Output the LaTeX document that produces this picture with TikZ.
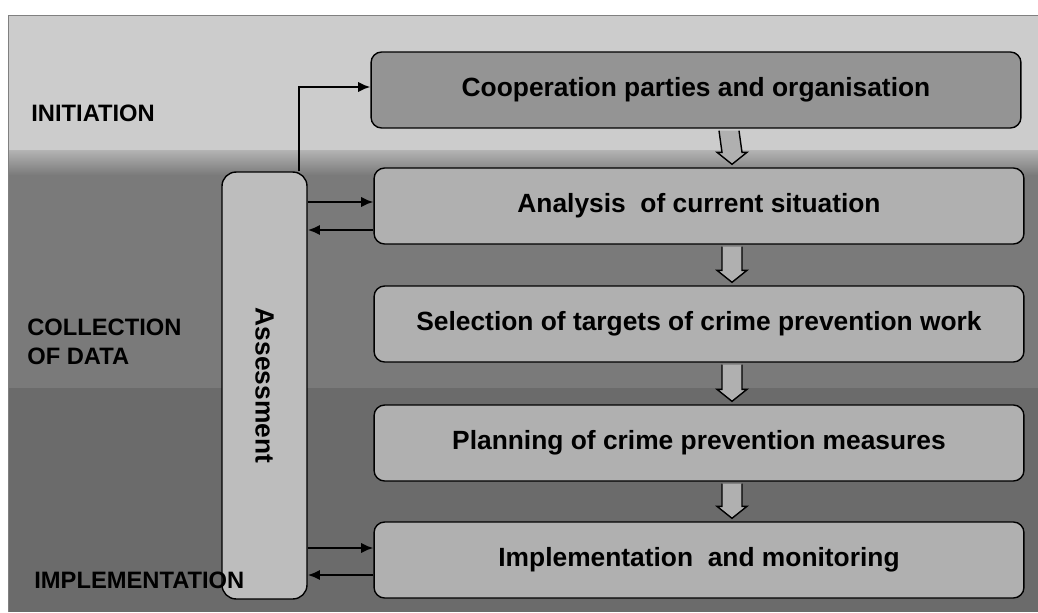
\documentclass[tikz,border=0pt]{standalone}
\usepackage{fontspec}
\setmainfont{Liberation Sans}
\usetikzlibrary{arrows.meta,calc,positioning}
\definecolor{bandtop}{gray}{0.80}
\definecolor{bandmid}{gray}{0.48}
\definecolor{bandlow}{gray}{0.42}
\definecolor{stepfill}{gray}{0.69}
\definecolor{coopfill}{gray}{0.58}
\definecolor{assessfill}{gray}{0.74}

\begin{document}
\begin{tikzpicture}[x=0.02cm,y=-0.02cm,
    phase/.style={font=\bfseries\fontsize{13.5}{16.4}\selectfont,align=left,anchor=west,inner sep=0pt},
    stepbox/.style={draw=black,thick,rounded corners=6pt,fill=stepfill,minimum width=13cm,minimum height=1.52cm,font=\bfseries\fontsize{15}{18}\selectfont},
    link/.style={line width=1.3pt,-{Latex[length=7pt,width=6pt]}},
    blockarrow/.style={draw=black,thick,fill=stepfill}]
        \useasboundingbox (0,0) rectangle (1038,612);
        % background bands
        \fill[bandtop] (8,15) rectangle (1038,150);
        \fill[bandmid] (8,150) rectangle (1038,388);
        \shade[top color=bandtop!70!bandmid,bottom color=bandmid] (8,150) rectangle (1038,175);
        \fill[bandlow] (8,388) rectangle (1038,612);
        \draw[gray,thin] (8,612) -- (8,15) -- (1038,15);
        % steps
        \node[stepbox,fill=coopfill] (coop) at (696,90) {Cooperation parties and organisation};
        \node[stepbox] (analysis) at (699,206) {Analysis~ of current situation};
        \node[stepbox] (select) at (699,324) {Selection of targets of crime prevention work};
        \node[stepbox] (plan) at (699,443) {Planning of crime prevention measures};
        \node[stepbox] (impl) at (699,560) {Implementation~ and monitoring};
        % assessment column
        \node[draw=black,thick,rounded corners=8pt,fill=assessfill,minimum width=1.7cm,minimum height=8.54cm] (assess) at (264.5,385.5) {};
        \node[rotate=-90,font=\bfseries\fontsize{15}{18}\selectfont] (assesstext) at (assess) {Assessment};
        % phases
        \node[phase] (initiation) at (31,113) {INITIATION};
        \node[phase] (collection) at (27,342) {COLLECTION\\OF DATA};
        \node[phase] (implementation) at (34,580) {IMPLEMENTATION};
        % block arrows
        \foreach \a/\b in {coop/analysis,analysis/select,select/plan,plan/impl}
          \draw[blockarrow] ($(\a.south)+(23,2)$) -- ($(\b.north)+(23,-15)$) -- ($(\b.north)+(18,-15)$)
            -- ($(\b.north)+(33,-3)$) -- ($(\b.north)+(48,-15)$) -- ($(\b.north)+(43,-15)$) -- ($(\a.south)+(43,2)$);
        % links
        \draw[link] ([xshift=-0.18cm]assess.north east) |- ($(coop.west)+(0,-3)$);
        \draw[link] ($(assess.east |- analysis)+(0,-4)$) -- ($(analysis.west)+(0,-4)$);
        \draw[link] ($(analysis.west)+(0,24)$) -- ($(assess.east |- analysis)+(0,24)$);
        \draw[link] ($(assess.east |- impl)+(0,-12)$) -- ($(impl.west)+(0,-12)$);
        \draw[link] ($(impl.west)+(0,15)$) -- ($(assess.east |- impl)+(0,15)$);
\end{tikzpicture}
\end{document}
